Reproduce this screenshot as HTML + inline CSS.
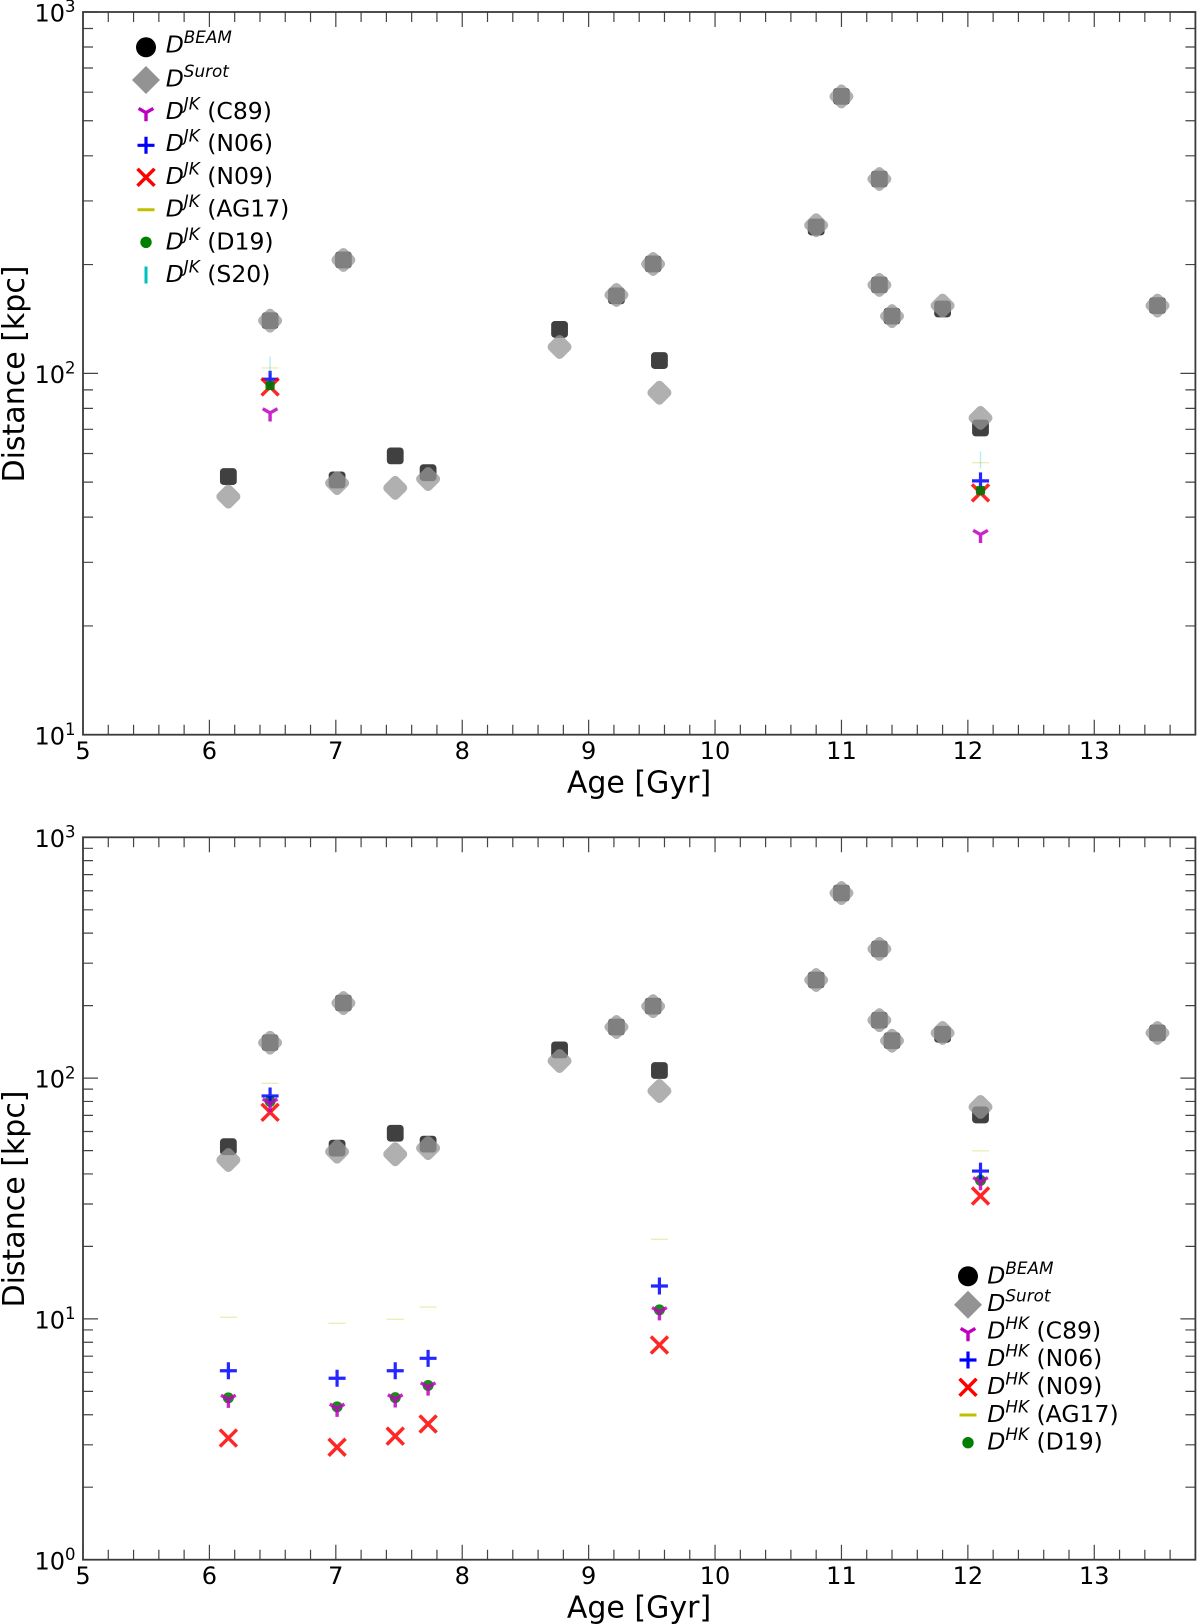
<!DOCTYPE html>
<html lang="en">
<head>
<meta charset="utf-8">
<title>Distance vs Age</title>
<style>
html,body{margin:0;padding:0;background:#fff;width:1200px;height:1624px;overflow:hidden}
svg{display:block}
text{font-family:"DejaVu Sans","Liberation Sans",sans-serif;fill:#000}
</style>
</head>
<body>
<svg id="fig" xmlns="http://www.w3.org/2000/svg" width="1200" height="1624" viewBox="0 0 1200 1624"></svg>
<script>
// ---- shared ticks ----
const xTickValues = [5, 6, 7, 8, 9, 10, 11, 12, 13];
const xLabel = "Age [Gyr]";
const yLabel = "Distance [kpc]";

// ---- shared ages ----
const clusterAges = [6.15, 6.48, 7.01, 7.06, 7.47, 7.73, 8.77, 9.22, 9.51, 9.56, 10.8, 11.0, 11.3, 11.3, 11.4, 11.8, 12.1, 13.5];

// ---- top panel data ----
const topYDecades = [1, 2, 3];
const topBeam  = [51.8, 139.9, 50.7, 206, 59.1, 53.1, 132.3, 163.8, 200.8, 108.5, 254, 584, 345, 175.7, 144, 150.7, 70.6, 154];
const topSurot = [45.6, 139.9, 49.7, 206, 48.2, 51.0, 118.3, 164.8, 200.8, 88.4, 257, 584, 345, 175.7, 144, 154, 75.3, 154];
const jkAges = [6.48, 12.1];
const jkC89  = [77.7, 35.8];
const jkN06  = [96.3, 50.4];
const jkN09  = [91.7, 46.7];
const jkAG17 = [103.5, 56.6];
const jkD19  = [92.5, 47.4];
const jkS20  = [105.5, 57.6];
const topLegendLabels = ["BEAM", "Surot", "JK", "JK", "JK", "JK", "JK", "JK"];
const topLegendSuffix = ["", "", " (C89)", " (N06)", " (N09)", " (AG17)", " (D19)", " (S20)"];

// ---- bottom panel data ----
const bottomYDecades = [0, 1, 2, 3];
const bottomBeam  = [51.9, 140.3, 51.2, 205, 59, 53.2, 131, 163, 199, 107.5, 255.5, 587, 344, 174, 143, 152, 70.3, 154];
const bottomSurot = [45.7, 140.3, 49.5, 205, 48.3, 51.2, 117.8, 163, 199, 88.4, 255.5, 587, 344, 174, 143, 154, 75.9, 154];
const hkAges = [6.15, 6.48, 7.01, 7.47, 7.73, 9.56, 12.1];
const hkC89  = [4.63, 78.6, 4.25, 4.65, 5.21, 10.7, 37.1];
const hkN06  = [6.09, 84.3, 5.67, 6.09, 6.86, 13.7, 41.1];
const hkN09  = [3.20, 72.1, 2.93, 3.26, 3.66, 7.79, 32.4];
const hkAG17 = [10.15, 95.1, 9.59, 9.96, 11.2, 21.4, 49.9];
const hkD19  = [4.70, 80.0, 4.31, 4.71, 5.29, 10.9, 37.6];
const bottomLegendLabels = ["BEAM", "Surot", "HK", "HK", "HK", "HK", "HK"];
const bottomLegendSuffix = ["", "", " (C89)", " (N06)", " (N09)", " (AG17)", " (D19)"];

// ---- drawing ----
const NS = "http://www.w3.org/2000/svg";
const fig = document.getElementById("fig");
function mk(tag, attrs, parent) {
  const n = document.createElementNS(NS, tag);
  for (const k in attrs) n.setAttribute(k, attrs[k]);
  (parent || fig).appendChild(n);
  return n;
}
function makeAxes(box, xMin, xMax, decMin, decMax) {
  return {
    box: box,
    x: v => box.left + (v - xMin) / (xMax - xMin) * (box.right - box.left),
    y: v => box.bottom - (Math.log10(v) - decMin) / (decMax - decMin) * (box.bottom - box.top)
  };
}
const markerDraw = {
  beam(g, x, y) {
    mk("rect", {x: x - 8.4, y: y - 8.4, width: 16.8, height: 16.8, rx: 3.6, fill: "#000", "fill-opacity": 0.75}, g);
  },
  surot(g, x, y) {
    mk("rect", {x: x - 9.8, y: y - 9.8, width: 19.6, height: 19.6, rx: 4.5, fill: "#959595", "fill-opacity": 0.75, transform: "rotate(45 " + x + " " + y + ")"}, g);
  },
  c89(g, x, y, o) {
    const r = 8.5;
    mk("path", {d: "M" + (x - r * .866) + " " + (y - r * .5) + "L" + x + " " + y + "L" + (x + r * .866) + " " + (y - r * .5) + "M" + x + " " + y + "L" + x + " " + (y + r), fill: "none", stroke: "#bf00bf", "stroke-width": 3.4, "stroke-opacity": o}, g);
  },
  n06(g, x, y, o) {
    mk("path", {d: "M" + (x - 8.5) + " " + y + "H" + (x + 8.5) + "M" + x + " " + (y - 8.5) + "V" + (y + 8.5), fill: "none", stroke: "#0000ff", "stroke-width": 3.2, "stroke-opacity": o}, g);
  },
  n09(g, x, y, o) {
    mk("path", {d: "M" + (x - 8.5) + " " + (y - 8.5) + "L" + (x + 8.5) + " " + (y + 8.5) + "M" + (x - 8.5) + " " + (y + 8.5) + "L" + (x + 8.5) + " " + (y - 8.5), fill: "none", stroke: "#ff0000", "stroke-width": 3.5, "stroke-opacity": o}, g);
  },
  ag17(g, x, y, o, w) {
    mk("path", {d: "M" + (x - 8.5) + " " + y + "H" + (x + 8.5), fill: "none", stroke: "#bfbf00", "stroke-width": w, "stroke-opacity": o}, g);
  },
  d19(g, x, y) {
    mk("rect", {x: x - 4.6, y: y - 4.6, width: 9.2, height: 9.2, rx: 2.2, fill: "#007400", "fill-opacity": 0.92}, g);
  },
  d19round(g, x, y) {
    mk("circle", {cx: x, cy: y, r: 5.5, fill: "#008000", "fill-opacity": 0.9}, g);
  },
  s20(g, x, y, o, w) {
    mk("path", {d: "M" + x + " " + (y - 8.5) + "V" + (y + 8.5), fill: "none", stroke: "#00bfbf", "stroke-width": w, "stroke-opacity": o}, g);
  }
};
function drawSeries(ax, parent, kind, ages, values, seriesName, opacity, width) {
  const g = mk("g", {}, parent);
  
  
  ages.forEach((a, i) => {
    const m = mk("g", {}, g);
    
    
    markerDraw[kind](m, ax.x(a), ax.y(values[i]), opacity, width);
  });
}
function drawFrame(ax, panel, decades) {
  const b = ax.box;
  const g = mk("g", {});
  
  
  let ticks = "";
  for (let v = 5; v <= 13.8001; v += 0.2) {
    const t = Math.round(v * 10) / 10;
    const len = Number.isInteger(t) ? 15 : 10;
    const x = ax.x(t);
    ticks += "M" + x + " " + b.bottom + "v" + (-len) + "M" + x + " " + b.top + "v" + len;
  }
  decades.forEach((d, i) => {
    const base = Math.pow(10, d);
    const yy = ax.y(base);
    ticks += "M" + b.left + " " + yy + "h15M" + b.right + " " + yy + "h-15";
    if (i < decades.length - 1) {
      for (let k = 2; k <= 9; k++) {
        const ym = ax.y(base * k);
        ticks += "M" + b.left + " " + ym + "h10M" + b.right + " " + ym + "h-10";
      }
    }
  });
  const tk = mk("path", {d: ticks, fill: "none", stroke: "#444", "stroke-width": 1.2}, g);
  
  
  const sp = mk("rect", {x: b.left, y: b.top, width: b.right - b.left, height: b.bottom - b.top, fill: "none", stroke: "#3a3a3a", "stroke-width": 1.8}, g);
  
  
  xTickValues.forEach(v => {
    const t = mk("text", {x: ax.x(v), y: b.bottom + 24.4, "text-anchor": "middle", "font-size": 24}, g);
    t.textContent = String(v);
    
    
  });
  decades.forEach(d => {
    const t = mk("text", {x: 75.5, y: ax.y(Math.pow(10, d)) + 9.6, "text-anchor": "end", "font-size": 24}, g);
    
    
    const a = mk("tspan", {}, t);
    a.textContent = "10";
    const e = mk("tspan", {dy: -9.4, "font-size": 16.5}, t);
    e.textContent = String(d);
  });
  const xl = mk("text", {x: 639, y: b.bottom + 58, "text-anchor": "middle", "font-size": 30}, g);
  xl.textContent = xLabel;
  
  
  const cy = panel === "top-panel" ? 374 : 1199;
  const yl = mk("text", {x: 0, y: 0, "text-anchor": "middle", "font-size": 30, transform: "translate(24 " + cy + ") rotate(-90)"}, g);
  yl.textContent = yLabel;
  
  
}
function legendMarker(kind, g, x, y) {
  if (kind === "beam") mk("circle", {cx: x, cy: y, r: 10, fill: "#000"}, g);
  else if (kind === "surot") mk("path", {d: "M" + x + " " + (y - 14) + "L" + (x + 14) + " " + y + "L" + x + " " + (y + 14) + "L" + (x - 14) + " " + y + "Z", fill: "#939393"}, g);
  else if (kind === "d19") mk("circle", {cx: x, cy: y, r: 5.7, fill: "#008000"}, g);
  else markerDraw[kind](g, x, y, 1, 3);
}
function drawLegend(panel, kinds, sups, suffixes, mx, tx, baselines, markerYs) {
  const g = mk("g", {});
  
  
  kinds.forEach((kind, i) => {
    const row = mk("g", {}, g);
    
    
    legendMarker(kind, row, mx, markerYs[i]);
    const t = mk("text", {x: tx, y: baselines[i], "font-size": 23.5}, row);
    const d = mk("tspan", {"font-style": "italic"}, t);
    d.textContent = "D";
    const s = mk("tspan", {"font-style": "italic", "font-size": 16.8, dy: -9.5}, t);
    s.textContent = sups[i];
    if (suffixes[i]) {
      const r = mk("tspan", {dy: 9.5}, t);
      r.setAttribute("xml:space", "preserve");
      r.style.whiteSpace = "pre";
      r.textContent = suffixes[i];
    }
  });
}

// top panel
const topAx = makeAxes({left: 83, right: 1195.4, top: 12, bottom: 734.7}, 5, 13.8, 1, 3);
const topG = mk("g", {});


drawSeries(topAx, topG, "beam", clusterAges, topBeam, "top-beam-series");
drawSeries(topAx, topG, "surot", clusterAges, topSurot, "top-surot-series");
drawSeries(topAx, topG, "c89", jkAges, jkC89, "jk-c89-series", 0.85);
drawSeries(topAx, topG, "n06", jkAges, jkN06, "jk-n06-series", 0.85);
drawSeries(topAx, topG, "n09", jkAges, jkN09, "jk-n09-series", 0.85);
drawSeries(topAx, topG, "ag17", jkAges, jkAG17, "jk-ag17-series", 0.28, 1.4);
drawSeries(topAx, topG, "s20", jkAges, jkS20, "jk-s20-series", 0.28, 1.4);
drawSeries(topAx, topG, "d19", jkAges, jkD19, "jk-d19-series");
drawFrame(topAx, "top-panel", topYDecades);
drawLegend("top-panel", ["beam", "surot", "c89", "n06", "n09", "ag17", "d19", "s20"], topLegendLabels, topLegendSuffix, 146, 165.7,
  [52.7, 86.7, 118.8, 151.2, 183.8, 216.5, 249.5, 282.2],
  [47.3, 80, 112.7, 145.3, 177.3, 209.7, 242.3, 275]);

// bottom panel
const botAx = makeAxes({left: 83, right: 1195.4, top: 837.3, bottom: 1559.7}, 5, 13.8, 0, 3);
const botG = mk("g", {});


drawSeries(botAx, botG, "beam", clusterAges, bottomBeam, "bottom-beam-series");
drawSeries(botAx, botG, "surot", clusterAges, bottomSurot, "bottom-surot-series");
drawSeries(botAx, botG, "d19round", hkAges, hkD19, "hk-d19-series");
drawSeries(botAx, botG, "ag17", hkAges, hkAG17, "hk-ag17-series", 0.28, 1.4);
drawSeries(botAx, botG, "n06", hkAges, hkN06, "hk-n06-series", 0.85);
drawSeries(botAx, botG, "n09", hkAges, hkN09, "hk-n09-series", 0.85);
drawSeries(botAx, botG, "c89", hkAges, hkC89, "hk-c89-series", 0.85);
drawFrame(botAx, "bottom-panel", bottomYDecades);
drawLegend("bottom-panel", ["beam", "surot", "c89", "n06", "n09", "ag17", "d19"], bottomLegendLabels, bottomLegendSuffix, 968, 987.3,
  [1283.3, 1311, 1338.5, 1366.2, 1393.8, 1421.8, 1449.5],
  [1276.3, 1304.7, 1332.7, 1360, 1387.3, 1415, 1442.7]);
</script>
</body>
</html>
